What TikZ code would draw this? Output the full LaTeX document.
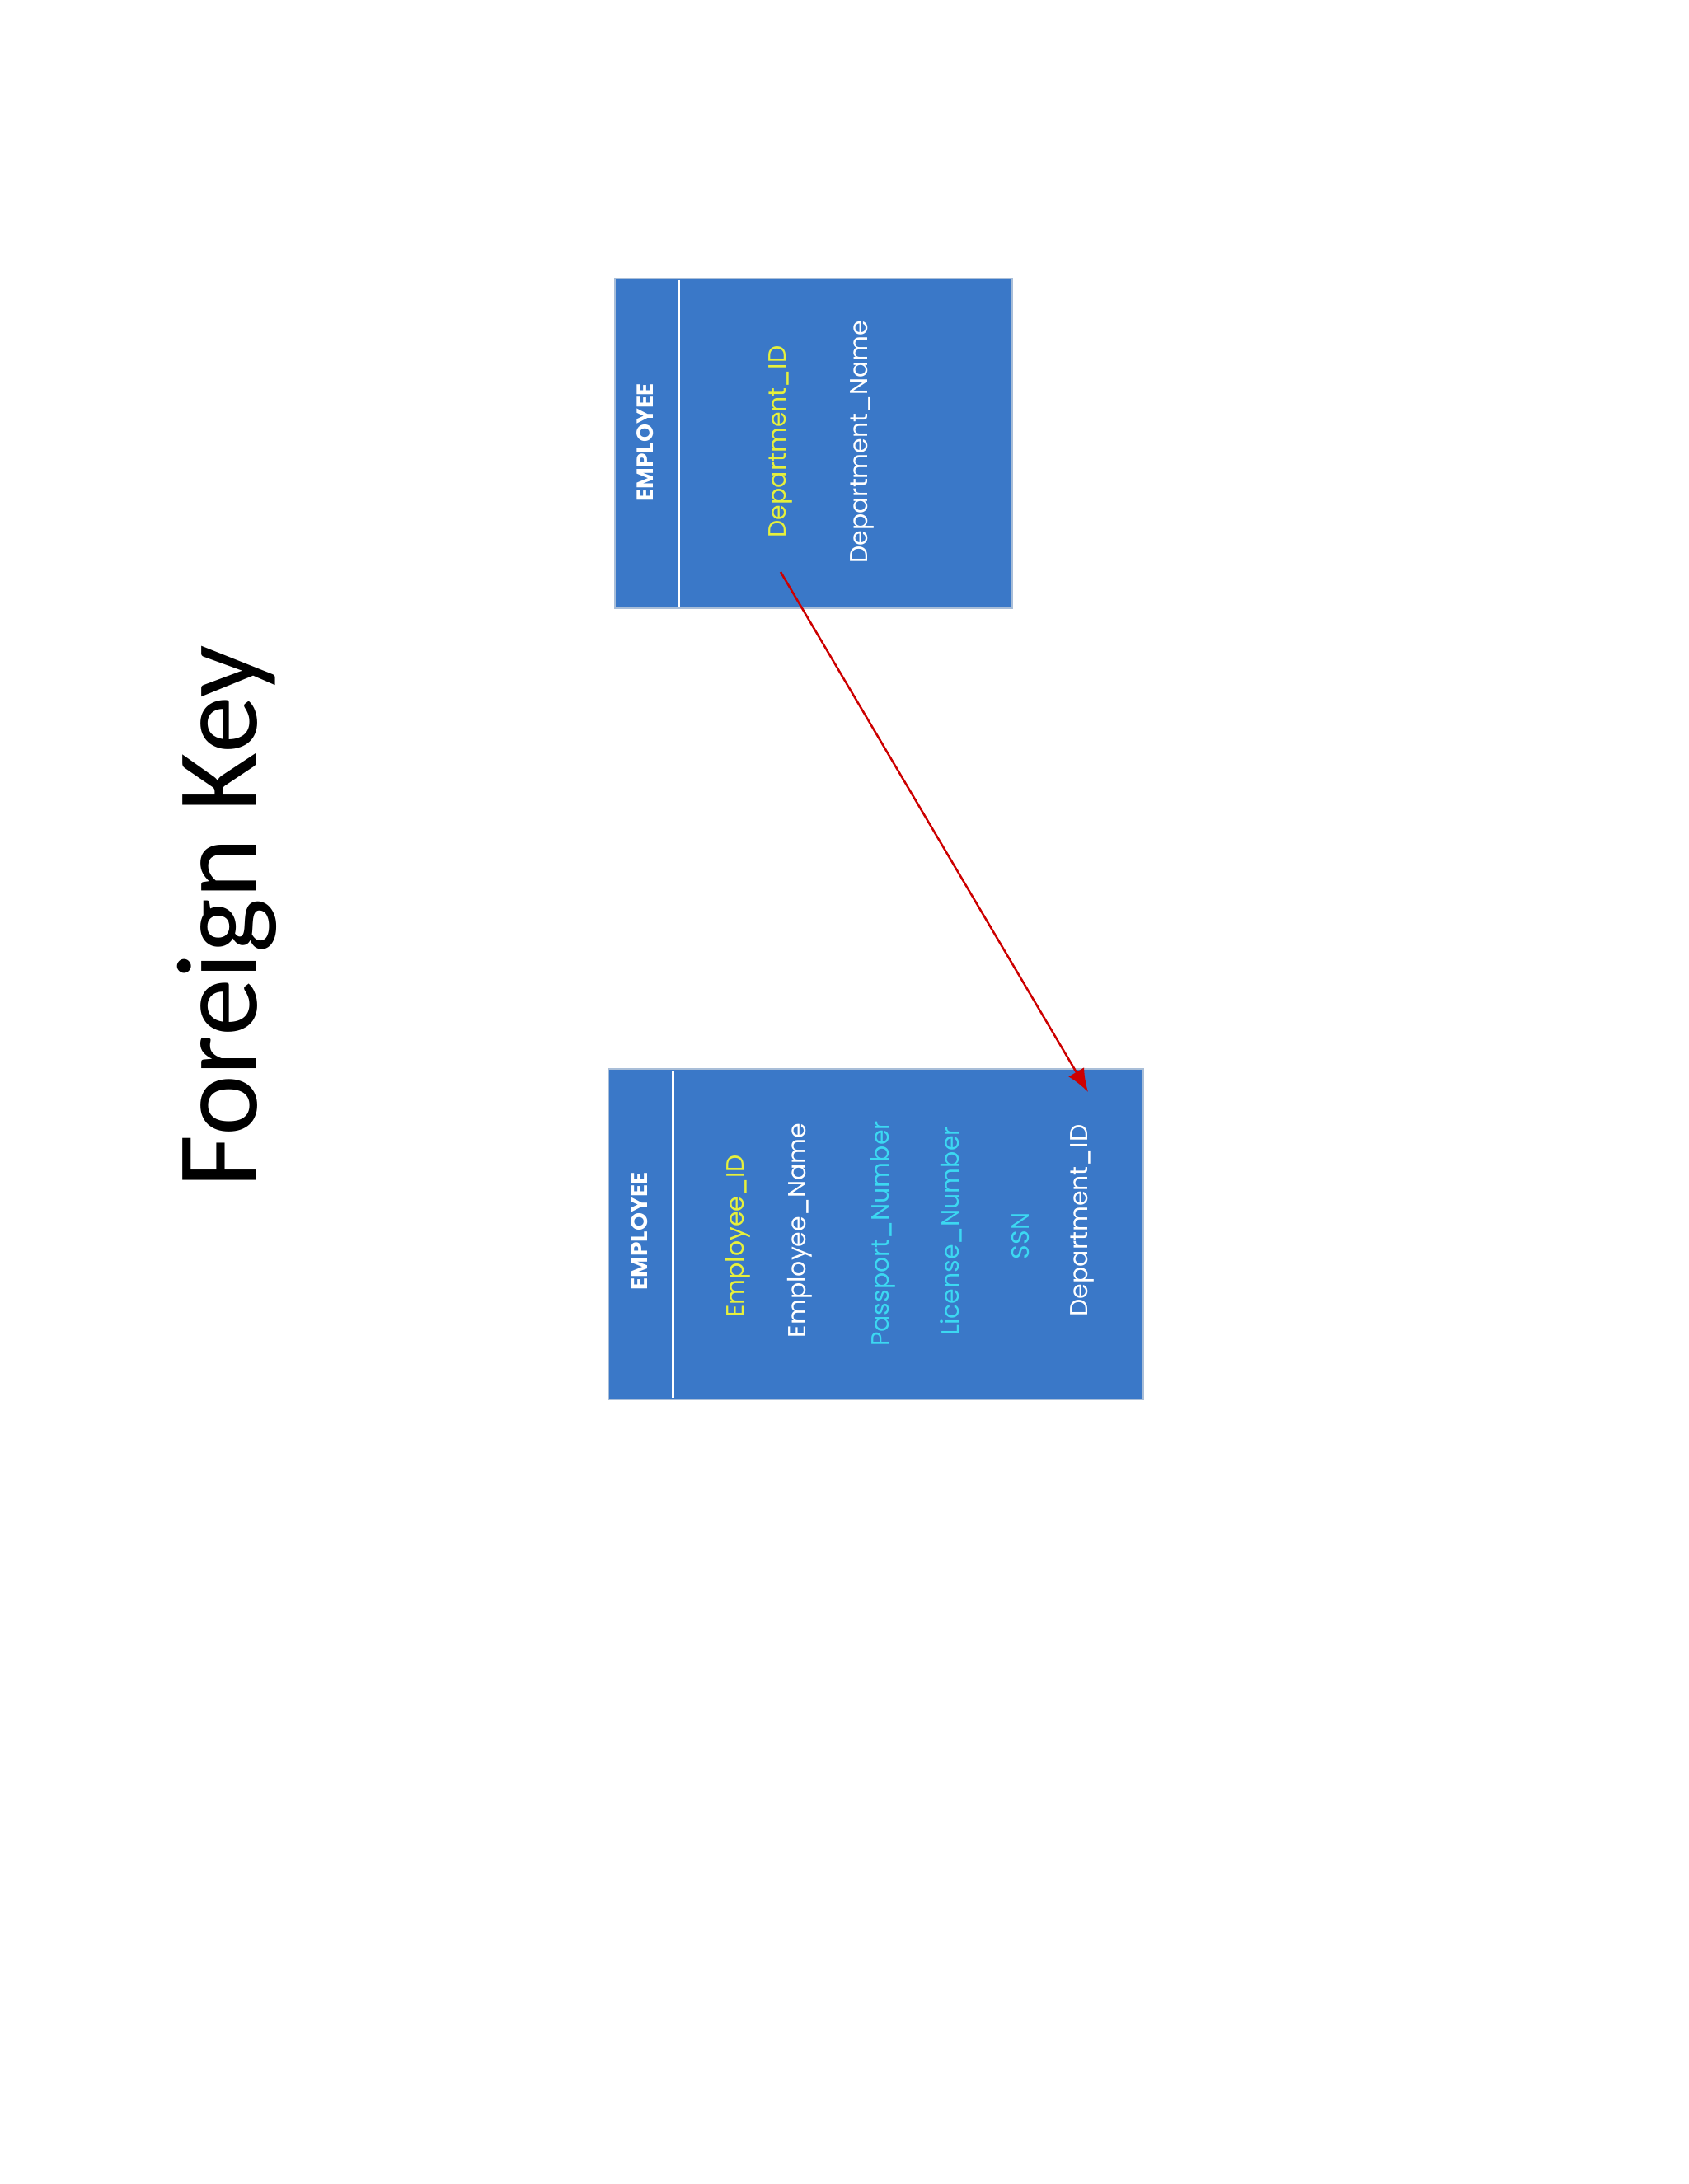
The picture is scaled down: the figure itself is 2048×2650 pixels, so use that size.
\documentclass[tikz,border=0pt]{standalone}
\usepackage{fontspec}
\usetikzlibrary{arrows.meta}
\setmainfont{Poppins}
\newfontfamily\titlefont{Carlito}
\definecolor{boxblue}{HTML}{3A78C8}
\definecolor{boxedge}{HTML}{A9BED8}
\definecolor{keyyellow}{HTML}{E6F03C}
\definecolor{keycyan}{HTML}{3CD8F2}
\begin{document}
\begin{tikzpicture}[x=1pt,y=-1pt,
  tbl/.style={draw=boxedge,line width=2.5pt,fill=boxblue},
  fld/.style={rotate=90,font=\fontsize{30}{36}\selectfont,inner sep=0pt,anchor=center},
  hdr/.style={fld,font=\bfseries\fontsize{28}{34}\selectfont,text=white}]
\useasboundingbox (0,0) rectangle (2048,2650);
\node[rotate=90,font=\titlefont\fontsize{140}{160}\selectfont] (title) at (275,1112) {Foreign Key};
% upper table
\draw[tbl] (746,338) rectangle (1228,738);
\draw[white,line width=3pt] (823,340) -- (823,736);
\node[hdr] (h1) at (783,537) {EMPLOYEE};
\node[fld,text=keyyellow] (d1) at (947,536) {Department\_ID};
\node[fld,text=white] (d2) at (1046,536) {Department\_Name};
% lower table
\draw[tbl] (738,1297) rectangle (1387,1698);
\draw[white,line width=3pt] (816,1299) -- (816,1696);
\node[hdr] (h2) at (776,1494) {EMPLOYEE};
\node[fld,text=keyyellow] (e1) at (895,1500) {Employee\_ID};
\node[fld,text=white] (e2) at (970,1493) {Employee\_Name};
\node[fld,text=keycyan] (e3) at (1071,1497) {Passport\_Number};
\node[fld,text=keycyan] (e4) at (1154,1494) {License\_Number};
\node[fld,text=keycyan] (e5) at (1238,1500) {SSN};
\node[fld,text=white] (e6) at (1313,1481) {Department\_ID};
\coordinate (s) at (947,694);
\coordinate (t) at (1320,1325);
\draw[red!80!black,line width=2.5pt,-{Latex[length=28pt,width=22pt]}] (s) -- (t);
\end{tikzpicture}
\end{document}
